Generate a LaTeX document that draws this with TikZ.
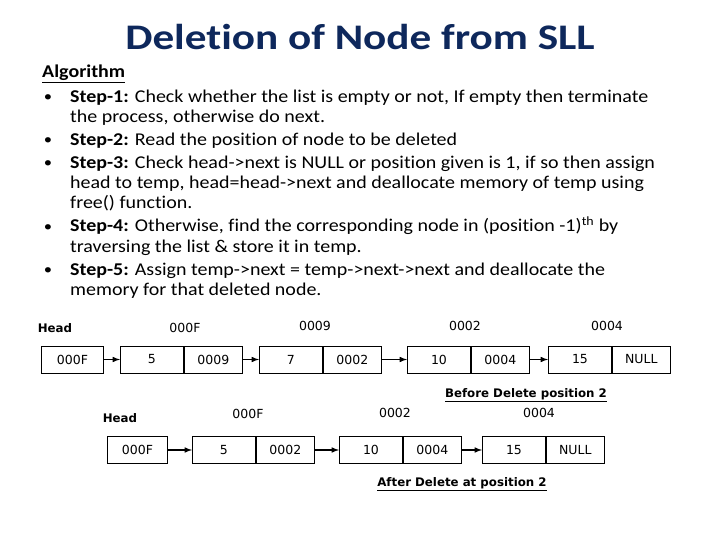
\documentclass[tikz,border=0pt]{standalone}
\usepackage{fontspec}
\setmainfont{Carlito}[FakeStretch=1.11, Ligatures=NoCommon]
\newfontfamily\titlefont{Carlito}[FakeStretch=1.2, Ligatures=NoCommon]
\newfontfamily\boxfont{DejaVu Sans}
\usepackage{tikz}
\usetikzlibrary{arrows,positioning}

\definecolor{titleblue}{RGB}{14,40,92}

\begin{document}
\begin{tikzpicture}[x=1pt,y=-1pt,
title/.style={font=\titlefont\fontsize{36}{40}\selectfont\bfseries, text=titleblue, inner sep=0pt},
line/.style={font=\fontsize{18}{20}\selectfont, anchor=base west, inner sep=0pt},
dot/.style={font=\fontsize{15}{20}\selectfont, anchor=base, inner sep=0pt},
data/.style={rectangle, draw, line width=0.9pt, minimum width=63pt, minimum height=27pt, inner sep=0pt, font=\boxfont\fontsize{12.5}{13}\selectfont},
ptr/.style={data, minimum width=58pt},
addr/.style={font=\boxfont\fontsize{12.5}{13}\selectfont, inner sep=0pt},
tag/.style={font=\boxfont\fontsize{11.8}{13}\selectfont\bfseries, inner sep=0pt},
flow/.style={-latex, line width=1.5pt}
]
\useasboundingbox (0,0) rectangle (720,540);

% title and algorithm
\node[title] (head) at (360,37) {Deletion of Node from SLL};
\node[line, font=\fontsize{18}{20}\selectfont\bfseries] (algo) at (42,78) {\underline{Algorithm}};
\node[dot] (b1) at (48,102) {•};
\node[line] (s1a) at (70,103) {\textbf{Step-1:} Check whether the list is empty or not, If empty then terminate};
\node[line] (s1b) at (70,123) {the process, otherwise do next.};
\node[dot] (b2) at (48,145) {•};
\node[line] (s2a) at (70,146) {\textbf{Step-2:} Read the position of node to be deleted};
\node[dot] (b3) at (48,168) {•};
\node[line] (s3a) at (70,169) {\textbf{Step-3:} Check head->next is NULL or position given is 1, if so then assign};
\node[line] (s3b) at (70,189) {head to temp, head=head->next and deallocate memory of temp using};
\node[line] (s3c) at (70,209) {free() function.};
\node[dot] (b4) at (48,231) {•};
\node[line] (s4a) at (70,232) {\textbf{Step-4:} Otherwise, find the corresponding node in (position -1)\textsuperscript{th} by};
\node[line] (s4b) at (70,252) {traversing the list \& store it in temp.};
\node[dot] (b5) at (48,274) {•};
\node[line] (s5a) at (70,275) {\textbf{Step-5:} Assign temp->next = temp->next->next and deallocate the};
\node[line] (s5b) at (70,295) {memory for that deleted node.};

% list before delete
\node[tag] (hdA) at (55,328) {Head};
\node[data, minimum width=62pt, anchor=west] (hA) at (41,359.5) {000F};
\node[data, anchor=west] (a1) at (120,359.5) {5};
\node[ptr, right=0pt of a1] (a1p) {0009};
\node[data, anchor=west] (a2) at (259,359.5) {7};
\node[ptr, right=0pt of a2] (a2p) {0002};
\node[data, anchor=west] (a3) at (407,359.5) {10};
\node[ptr, right=0pt of a3] (a3p) {0004};
\node[data, anchor=west] (a4) at (548,359.5) {15};
\node[ptr, right=0pt of a4] (a4p) {NULL};
\node[addr] (ad1) at (185,328) {000F};
\node[addr] (ad2) at (315,326) {0009};
\node[addr] (ad3) at (465,326) {0002};
\node[addr] (ad4) at (607,326) {0004};
\draw[flow] (hA) -- (a1);
\draw[flow] (a1p) -- (a2);
\draw[flow] (a2p) -- (a3);
\draw[flow] (a3p) -- (a4);
\node[tag] (before) at (526,395) {\underline{Before Delete position 2}};

% list after delete
\node[tag] (hdB) at (120,418) {Head};
\node[data, minimum width=60pt, anchor=west] (hB) at (107,450) {000F};
\node[data, anchor=west] (c1) at (192,450) {5};
\node[ptr, right=0pt of c1] (c1p) {0002};
\node[data, anchor=west] (c2) at (339,450) {10};
\node[ptr, right=0pt of c2] (c2p) {0004};
\node[data, anchor=west] (c3) at (482,450) {15};
\node[ptr, right=0pt of c3] (c3p) {NULL};
\node[addr] (cd1) at (248,414) {000F};
\node[addr] (cd2) at (395,413) {0002};
\node[addr] (cd3) at (539,413) {0004};
\draw[flow] (hB) -- (c1);
\draw[flow] (c1p) -- (c2);
\draw[flow] (c2p) -- (c3);
\node[tag] (after) at (462,484) {\underline{After Delete at position 2}};
\end{tikzpicture}
\end{document}
